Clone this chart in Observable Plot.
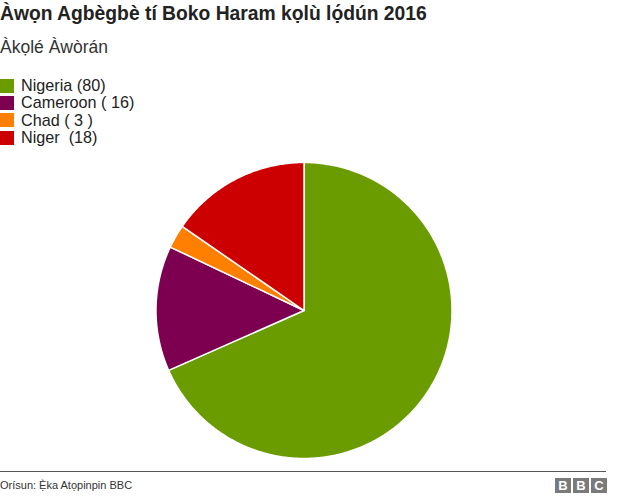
<!DOCTYPE html>
<html>
<head>
<meta charset="utf-8">
<script src="https://cdn.jsdelivr.net/npm/d3@7"></script>
<script src="https://cdn.jsdelivr.net/npm/@observablehq/plot@0.6"></script>
<style>
  html, body { margin: 0; padding: 0; background: #fff; }
  body { width: 640px; height: 497px; position: relative; overflow: hidden; font-family: "Liberation Sans", Arial, Helvetica, sans-serif; color: #222; }
  .title { position: absolute; left: 0; top: 3px; font-size: 19.3px; font-weight: bold; white-space: nowrap; }
  .subtitle { position: absolute; left: 0; top: 37px; font-size: 17.5px; white-space: nowrap; color: #333; }
  .legend { position: absolute; left: 0; top: 77px; }
  .legend .item { display: flex; align-items: center; height: 17.3px; font-size: 16.2px; color: #222; }
  .legend .sw { width: 14px; height: 14px; margin-right: 7px; }
  #chart { position: absolute; left: 0; top: 162px; }
  .rule { position: absolute; left: 0; top: 471px; width: 606px; height: 1px; background: #555; }
  .source { position: absolute; left: 0; top: 479px; font-size: 11px; color: #333; }
  .logo { position: absolute; left: 555px; top: 478px; display: flex; gap: 2px; }
  .logo span { width: 16px; height: 15px; background: #7a7a7a; color: #fff; font-weight: bold; font-size: 13px; line-height: 15px; text-align: center; font-family: "Liberation Sans", Arial, sans-serif; }
</style>
</head>
<body>
<div class="title">Àwọn Agbègbè tí Boko Haram kọlù lọ́dún 2016</div>
<div class="subtitle">Àkọlé Àwòrán</div>
<div class="legend" id="legend"></div>
<div id="chart"></div>
<div class="rule"></div>
<div class="source">Orísun: Ẹ̀ka Atọpinpin BBC</div>
<div class="logo"><span>B</span><span>B</span><span>C</span></div>
<script>
const countries = ["Nigeria", "Cameroon", "Chad", "Niger"];
const values = [80, 16, 3, 18];
const legendLabels = ["Nigeria (80)", "Cameroon ( 16)", "Chad ( 3 )", "Niger  (18)"];
const colors = ["#6a9c00", "#7d0050", "#ff8000", "#cc0000"];

// legend
const legend = document.getElementById("legend");
countries.forEach((c, i) => {
  const item = document.createElement("div");
  item.className = "item";
  const sw = document.createElement("div");
  sw.className = "sw";
  sw.style.background = colors[i];
  const t = document.createElement("span");
  t.textContent = legendLabels[i];
  t.style.whiteSpace = "pre";
  item.appendChild(sw);
  item.appendChild(t);
  legend.appendChild(item);
});

// pie slices as planar polygons
const data = countries.map((c, i) => ({name: c, value: values[i]}));
const arcs = d3.pie().sort(null).value(d => d.value)(data);
function slicePolygon(a) {
  const n = Math.max(2, Math.ceil((a.endAngle - a.startAngle) / 0.01));
  const pts = [[0, 0]];
  for (let k = 0; k <= n; k++) {
    const t = a.startAngle + (a.endAngle - a.startAngle) * k / n;
    pts.push([Math.sin(t), Math.cos(t)]);
  }
  pts.push([0, 0]);
  return pts;
}
const features = {
  type: "FeatureCollection",
  features: arcs.map(a => ({
    type: "Feature",
    properties: {name: a.data.name},
    geometry: {type: "Polygon", coordinates: [slicePolygon(a)]}
  }))
};

const chart = Plot.plot({
  width: 640,
  height: 296,
  marginLeft: 0,
  marginRight: 33,
  marginTop: 0,
  marginBottom: 0,
  projection: {type: "reflect-y", domain: features},
  color: {domain: countries, range: colors},
  marks: [
    Plot.geo(features, {fill: d => d.properties.name, stroke: "white", strokeWidth: 1.5})
  ]
});
document.getElementById("chart").appendChild(chart);
</script>
</body>
</html>
